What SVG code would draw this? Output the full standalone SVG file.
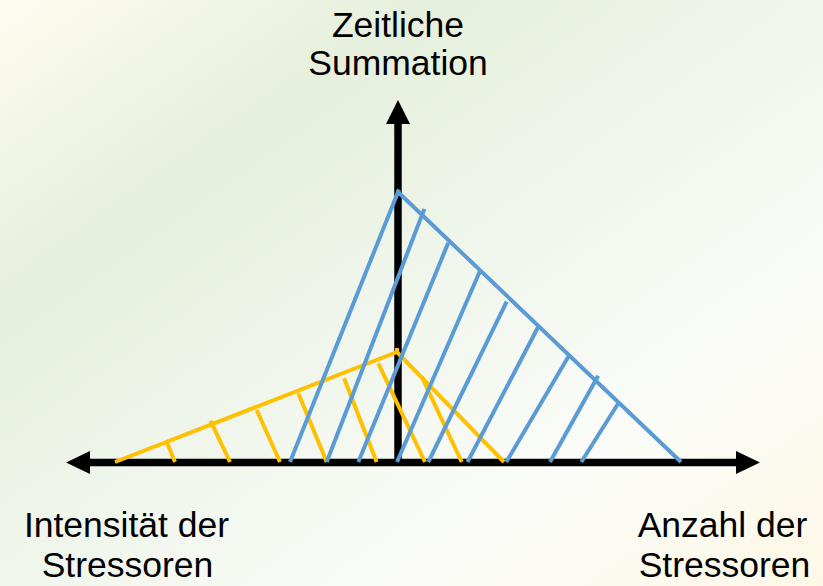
<svg xmlns="http://www.w3.org/2000/svg" width="823" height="586" viewBox="0 0 823 586">
  <defs>
    <linearGradient id="bg" x1="0" y1="0" x2="1" y2="1">
      <stop offset="0" stop-color="#fefcf1"/>
      <stop offset="0.26" stop-color="#e6efdc"/>
      <stop offset="0.5" stop-color="#f0f6ec"/>
      <stop offset="0.75" stop-color="#fbfcf8"/>
      <stop offset="1" stop-color="#fdf8e6"/>
    </linearGradient>
  </defs>
  <style>
    .axis { stroke: #000000; stroke-width: 7.5; fill: none; }
    .head { fill: #000000; stroke: none; }
    .blue { stroke: #5b9bd5; stroke-width: 4; fill: none; stroke-linecap: butt; stroke-linejoin: miter; }
    .yellow { stroke: #ffc000; stroke-width: 4; fill: none; stroke-linecap: butt; stroke-linejoin: miter; }
    .label { font-family: "Liberation Sans", Arial, sans-serif; font-size: 35.5px; fill: #000000; text-anchor: middle; }
  </style>
  <rect x="0" y="0" width="823" height="586" fill="url(#bg)"/>

  <g id="connectors">
    <g id="axes">
      <line class="axis" x1="88" y1="462.5" x2="738" y2="462.5"/>
      <line class="axis" x1="398" y1="122" x2="398" y2="462.5"/>
      <polygon class="head" points="66,462.5 90,451 90,474"/>
      <polygon class="head" points="760,462.5 736,451 736,474"/>
      <polygon class="head" points="398,100 386,124 410,124"/>
    </g>

    <g id="yellow-area">
      <polyline class="yellow" points="115,462 397,352 504,462"/>
      <line class="yellow" x1="397" y1="348" x2="397" y2="353"/>
      <line class="yellow" x1="167.3" y1="443.3" x2="175" y2="462"/>
      <line class="yellow" x1="210.4" y1="420.6" x2="230" y2="462"/>
      <line class="yellow" x1="256.7" y1="410" x2="280" y2="462"/>
      <line class="yellow" x1="298.3" y1="393.3" x2="326.7" y2="462"/>
      <line class="yellow" x1="344" y1="378.3" x2="376.7" y2="462"/>
      <line class="yellow" x1="378.3" y1="363.3" x2="425" y2="462"/>
      <line class="yellow" x1="421.7" y1="376.7" x2="461.7" y2="462"/>
    </g>

    <g id="blue-area">
      <polyline class="blue" points="290,462 398,192 681,462"/>
      <line class="blue" x1="399" y1="189.5" x2="398" y2="192"/>
      <line class="blue" x1="424.4" y1="208.9" x2="326.7" y2="462"/>
      <line class="blue" x1="448.3" y1="242.7" x2="358.3" y2="462"/>
      <line class="blue" x1="480" y1="271" x2="397" y2="462"/>
      <line class="blue" x1="506.7" y1="301.7" x2="428.3" y2="462"/>
      <line class="blue" x1="538.3" y1="326.7" x2="467.5" y2="462"/>
      <line class="blue" x1="568.3" y1="356.7" x2="506.3" y2="462"/>
      <line class="blue" x1="598.2" y1="375.7" x2="550" y2="462"/>
      <line class="blue" x1="618.3" y1="403.3" x2="581.3" y2="462"/>
    </g>
  </g>

  <g id="label-vertical">
    <text class="label" x="398" y="37">Zeitliche</text>
    <text class="label" x="398" y="75">Summation</text>
  </g>
  <g id="label-left">
    <text class="label" x="126.5" y="537">Intensität der</text>
    <text class="label" x="127.5" y="577">Stressoren</text>
  </g>
  <g id="label-right">
    <text class="label" x="722.5" y="537">Anzahl der</text>
    <text class="label" x="724.5" y="577">Stressoren</text>
  </g>
</svg>
